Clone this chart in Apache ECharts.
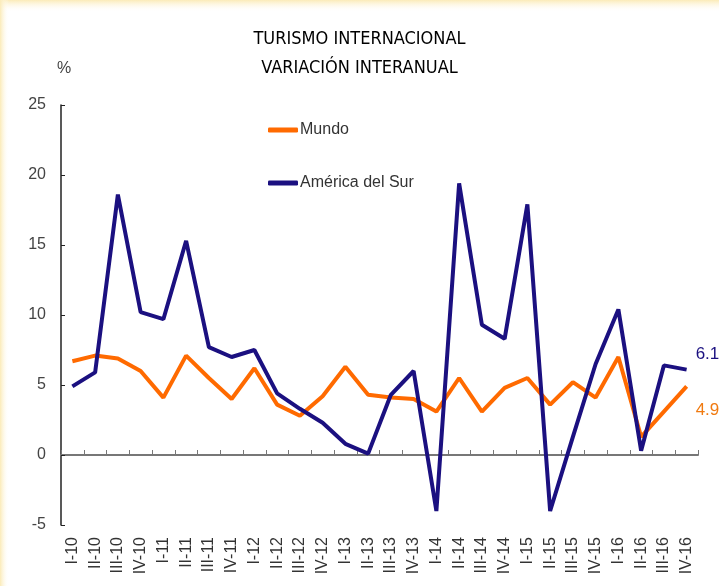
<!DOCTYPE html>
<html>
<head>
<meta charset="utf-8">
<script src="https://cdn.jsdelivr.net/npm/echarts@6/dist/echarts.min.js"></script>
<style>
html,body{margin:0;padding:0;background:#fff;}
#chart{width:719px;height:586px;}
</style>
</head>
<body>
<div id="chart"></div>
<script>
var categories = ['I-10','II-10','III-10','IV-10','I-11','II-11','III-11','IV-11','I-12','II-12','III-12','IV-12','I-13','II-13','III-13','IV-13','I-14','II-14','III-14','IV-14','I-15','II-15','III-15','IV-15','I-16','II-16','III-16','IV-16'];
var mundo = [6.7,7.1,6.9,6.0,4.1,7.1,5.5,4.0,6.2,3.6,2.8,4.2,6.3,4.3,4.1,4.0,3.1,5.5,3.1,4.8,5.5,3.6,5.2,4.1,7.0,1.3,3.1,4.9];
var americaSur = [4.9,5.9,18.6,10.2,9.7,15.3,7.7,7.0,7.5,4.4,3.3,2.3,0.8,0.1,4.3,6.0,-4.0,19.4,9.3,8.3,17.9,-4.0,1.3,6.5,10.4,0.3,6.4,6.1];
var yTicks = {min:-5, max:25, interval:5};

var C_ORANGE = '#FF6A00';
var C_NAVY = '#1B1080';
var FONT = '"Liberation Sans", Arial, sans-serif';

function endLabel(color, offset) {
  return {show: true, distance: 9, offset: offset, color: color, fontSize: 17, fontFamily: FONT,
    formatter: function (p) { return Number(p.value).toFixed(1); }};
}

var chart = echarts.init(document.getElementById('chart'), null, {renderer: 'canvas'});
chart.setOption({
  backgroundColor: '#fff',
  animation: false,
  title: {
    text: 'TURISMO INTERNACIONAL\nVARIACIÓN INTERANUAL',
    left: 'center',
    top: 20,
    textStyle: {fontFamily: '"Liberation Sans Narrow", "DejaVu Sans Condensed", "Liberation Sans", sans-serif',
      fontSize: 18, fontWeight: 'normal', color: '#000', lineHeight: 29}
  },
  graphic: [
    {type: 'rect', left: 0, top: 0, shape: {width: 719, height: 12}, z: -10,
      style: {fill: new echarts.graphic.LinearGradient(0,0,0,1,[{offset:0,color:'#FBEBB8'},{offset:1,color:'rgba(255,255,255,0)'}])}},
    {type: 'rect', left: 0, top: 0, shape: {width: 9, height: 586}, z: -10,
      style: {fill: new echarts.graphic.LinearGradient(0,0,1,0,[{offset:0,color:'#FBEBB8'},{offset:1,color:'rgba(255,255,255,0)'}])}},
    {type: 'text', left: 57, top: 61, style: {text: '%', fontSize: 16, fontFamily: FONT, fill: '#444'}}
  ],
  legend: {
    orient: 'vertical',
    left: 268,
    top: 122,
    padding: 0,
    itemWidth: 30,
    itemHeight: 5,
    itemGap: 37,
    data: [{name: 'Mundo', icon: 'roundRect'}, {name: 'América del Sur', icon: 'roundRect'}],
    textStyle: {fontSize: 16, fontFamily: FONT, color: '#333', padding: [0,0,0,-3]}
  },
  grid: {left: 61, right: 21, top: 105, bottom: 61, containLabel: false},
  xAxis: [
    {
      type: 'category', data: categories, boundaryGap: true, position: 'bottom',
      axisLine: {show: false, onZero: false}, axisTick: {show: false},
      axisLabel: {rotate: 90, margin: 12, fontSize: 16, fontFamily: FONT, color: '#333', interval: 0},
      splitLine: {show: false}
    },
    {
      type: 'category', data: categories, boundaryGap: true, position: 'top',
      axisLine: {show: true, onZero: true, lineStyle: {color: '#777', width: 2}},
      axisTick: {show: true, inside: false, length: 5, interval: 0, lineStyle: {color: '#777', width: 1}},
      axisLabel: {show: false}, splitLine: {show: false}
    }
  ],
  yAxis: {
    type: 'value', min: yTicks.min, max: yTicks.max, interval: yTicks.interval,
    axisLine: {show: true, onZero: false, lineStyle: {color: '#222', width: 1.5}},
    axisTick: {show: true, inside: true, length: 4, lineStyle: {color: '#222'}},
    axisLabel: {margin: 15, fontSize: 16, fontFamily: FONT, color: '#444'},
    splitLine: {show: false}
  },
  series: [
    {name: 'Mundo', type: 'line', xAxisIndex: 0, data: mundo, clip: false,
      symbol: 'none', color: C_ORANGE, lineStyle: {width: 4, color: C_ORANGE}, z: 3,
      endLabel: endLabel('#F07A10', [0, 24])},
    {name: 'América del Sur', type: 'line', xAxisIndex: 0, data: americaSur, clip: false,
      symbol: 'none', color: C_NAVY, lineStyle: {width: 4, color: C_NAVY}, z: 4,
      endLabel: endLabel(C_NAVY, [0, -15])}
  ]
});
</script>
</body>
</html>
